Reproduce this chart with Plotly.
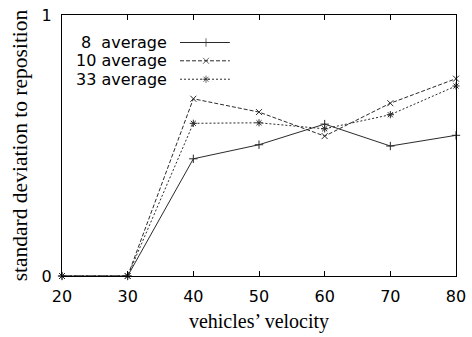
import plotly.graph_objects as go

velocity = [20, 30, 40, 50, 60, 70, 80]
avg8 = [0.0, 0.0, 0.449, 0.503, 0.582, 0.498, 0.539]
avg10 = [0.0, 0.0, 0.679, 0.628, 0.536, 0.662, 0.756]
avg33 = [0.0, 0.0, 0.585, 0.587, 0.564, 0.618, 0.728]

series_names = ["8  average", "10 average", "33 average"]
series_values = [avg8, avg10, avg33]
dashes = ["solid", "4px,2px", "2px,2px"]
symbols = ["cross-thin-open", "x-thin-open", "asterisk-open"]
line_color = "#2a2a2a"
sans = "DejaVu Sans, Arial"
serif = "Liberation Serif, Times New Roman"

fig = go.Figure()
for name, vals, dash, sym in zip(series_names, series_values, dashes, symbols):
    fig.add_trace(go.Scatter(
        x=velocity, y=vals, mode="lines+markers", name=name,
        line=dict(color=line_color, width=1, dash=dash),
        marker=dict(symbol=sym, size=6, color=line_color,
                    line=dict(color=line_color, width=1)),
        showlegend=False, cliponaxis=False,
    ))

# key in the upper-left: text right-aligned, sample line to its right
key_rows = [0.8946, 0.8245, 0.7540]
for name, dash, sym, yk in zip(series_names, dashes, symbols, key_rows):
    fig.add_trace(go.Scatter(
        x=[0.2995, 0.3655, 0.426], y=[yk, yk, yk], mode="lines+markers",
        xaxis="x2", yaxis="y2", showlegend=False, hoverinfo="skip",
        line=dict(color=line_color, width=1, dash=dash),
        marker=dict(symbol=sym, size=[0, 6, 0], color=line_color,
                    line=dict(color=line_color, width=1)),
    ))
    fig.add_annotation(
        x=0.2698, y=yk, xref="paper", yref="paper", text=name,
        showarrow=False, xanchor="right", yanchor="middle",
        borderpad=0, font=dict(family=sans, size=16, color="black"),
    )

fig.update_layout(
    width=472, height=337,
    margin=dict(l=62, r=16, t=15, b=61, autoexpand=False),
    paper_bgcolor="white", plot_bgcolor="white",
    xaxis=dict(
        range=[20, 80], tickvals=velocity, ticks="inside", ticklen=5,
        tickcolor="black", mirror="ticks", showline=True, linecolor="black",
        linewidth=1, showgrid=False, zeroline=False, ticklabelstandoff=6,
        automargin=False,
        tickfont=dict(family=sans, size=16, color="black"),
        title=dict(text="vehicles’ velocity", standoff=8,
                   font=dict(family=serif, size=20, color="black")),
    ),
    yaxis=dict(
        range=[0, 1], tickvals=[0, 1], ticks="", mirror=True, showline=True,
        linecolor="black", linewidth=1, showgrid=False, zeroline=False,
        ticklabelstandoff=6, automargin=False,
        tickfont=dict(family=sans, size=16, color="black"),
        title=dict(text="standard deviation to reposition", standoff=8,
                   font=dict(family=serif, size=21.5, color="black")),
    ),
    xaxis2=dict(range=[0, 1], overlaying="x", visible=False, domain=[0, 1]),
    yaxis2=dict(range=[0, 1], overlaying="y", visible=False),
)

fig.write_html("out.html")
